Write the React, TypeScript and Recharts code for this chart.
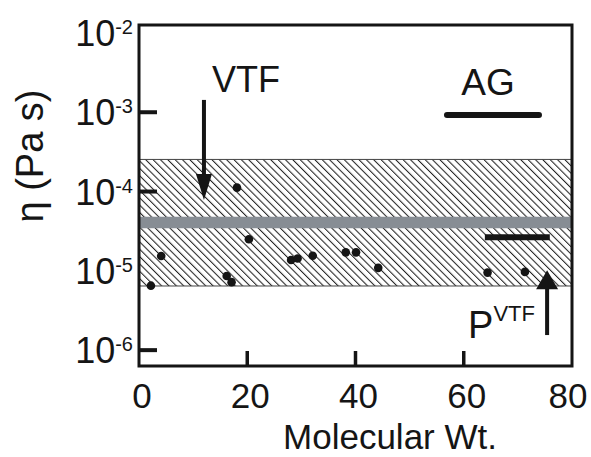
import React from "react";
import {
  ComposedChart,
  XAxis,
  YAxis,
  Scatter,
  ReferenceArea,
  ReferenceLine,
  ReferenceDot,
} from "recharts";

const FONT = '"Liberation Sans", Arial, Helvetica, sans-serif';
const INK = "#151515";

// molecular weight and viscosity of each liquid
const molWt = [2.2, 4.1, 16.2, 17.1, 18.1, 20.3, 28.1, 29.3, 32.1, 38.2, 40.1, 44.2, 64.4, 71.3];
const viscosity = [
  6.5e-6, 1.54e-5, 8.6e-6, 7.2e-6, 1.12e-4, 2.5e-5, 1.37e-5, 1.43e-5, 1.55e-5, 1.71e-5,
  1.71e-5, 1.09e-5, 9.5e-6, 9.7e-6,
];

const xTicks = [0, 20, 40, 60, 80];
const yTicks = [1e-6, 1e-5, 1e-4, 1e-3, 1e-2];
const yDomain = [Math.pow(10, -6.2), Math.pow(10, -1.9)];

// VTF range (hatched) and its centre (grey)
const vtfRange = [6.44e-6, 2.54e-4];
const vtfCentre = [3.44e-5, 4.82e-5];
// horizontal bars
const agBar = { x: [56.9, 73.9], y: 9.2e-4 };
const pBar = { x: [63.9, 75.9], y: 2.65e-5 };
// arrows: shaft start -> tip
const vtfArrow = { x: 12.0, from: 1.43e-3, to: 7.8e-5 };
const pArrow = { x: 75.4, from: 1.55e-6, to: 1.02e-5 };

const points = molWt.map((x, i) => ({ x, y: viscosity[i] }));

const YTick = (props: any) => {
  const { x, y, payload } = props;
  const exp = Math.round(Math.log10(payload.value));
  return (
    <g>
      {exp !== -2 && exp !== -5 && (
        <line x1={x} x2={x + 18} y1={y} y2={y} stroke={INK} strokeWidth={4} />
      )}
      <text x={x - 6} y={y + 13} textAnchor="end" fontFamily={FONT} fontSize={36} fill={INK}>
        10
        <tspan dy={-12} fontSize={20}>
          {String(exp)}
        </tspan>
      </text>
    </g>
  );
};

const XTick = (props: any) => {
  const { x, y, payload } = props;
  const v = payload.value;
  return (
    <g>
      {v > 0 && v < 80 && <line x1={x} x2={x} y1={y} y2={y - 15} stroke={INK} strokeWidth={3.5} />}
      <text
        x={v === 80 ? x - 4 : x + 3}
        y={y + 42}
        textAnchor="middle"
        fontFamily={FONT}
        fontSize={35}
        fill={INK}
      >
        {v}
      </text>
    </g>
  );
};

const arrowHead = (w: number, h: number, up: boolean) => (p: any) => {
  const { cx, cy } = p;
  const base = up ? cy + h : cy - h;
  return <polygon points={`${cx},${cy} ${cx - w / 2},${base} ${cx + w / 2},${base}`} fill={INK} />;
};

export default function App() {
  return (
    <div style={{ position: "absolute", left: 0, top: 0, width: 591, height: 457, background: "#fff" }}>
      <ComposedChart width={591} height={457} margin={{ top: 25, right: 19, bottom: 0, left: 0 }}>
        <defs>
          <pattern
            id="hatch"
            width={5.2}
            height={5.2}
            patternUnits="userSpaceOnUse"
            patternTransform="rotate(-45)"
          >
            <rect width={5.2} height={5.2} fill="#fff" />
            <line x1={0.5} y1={0} x2={0.5} y2={5.2} stroke="#222" strokeWidth={1.1} />
          </pattern>
        </defs>
        <XAxis
          type="number"
          dataKey="x"
          domain={[0, 80]}
          ticks={xTicks}
          height={91}
          axisLine={false}
          tickLine={false}
          tickSize={0}
          tickMargin={0}
          tick={<XTick />}
          interval={0}
        />
        <YAxis
          type="number"
          dataKey="y"
          scale="log"
          domain={yDomain}
          allowDataOverflow
          ticks={yTicks}
          width={139}
          axisLine={false}
          tickLine={false}
          tickSize={0}
          tickMargin={0}
          tick={<YTick />}
          interval={0}
        />
        <ReferenceArea
          x1={0}
          x2={80}
          y1={vtfRange[0]}
          y2={vtfRange[1]}
          fill="url(#hatch)"
          fillOpacity={1}
          stroke="#444"
          strokeWidth={1}
        />
        <ReferenceArea
          x1={0}
          x2={80}
          y1={vtfCentre[0]}
          y2={vtfCentre[1]}
          fill="#878d94"
          fillOpacity={1}
          stroke="none"
        />
        <Scatter
          data={points}
          dataKey="y"
          isAnimationActive={false}
          shape={(p: any) => <circle cx={p.cx} cy={p.cy} r={4.3} fill={INK} />}
        />
        <ReferenceLine
          segment={[
            { x: agBar.x[0], y: agBar.y },
            { x: agBar.x[1], y: agBar.y },
          ]}
          stroke={INK}
          strokeWidth={6}
          strokeLinecap="round"
        />
        <ReferenceLine
          segment={[
            { x: pBar.x[0], y: pBar.y },
            { x: pBar.x[1], y: pBar.y },
          ]}
          stroke={INK}
          strokeWidth={6}
        />
        <ReferenceLine
          segment={[
            { x: vtfArrow.x, y: vtfArrow.from },
            { x: vtfArrow.x, y: vtfArrow.to * 1.3 },
          ]}
          stroke={INK}
          strokeWidth={4}
        />
        <ReferenceDot x={vtfArrow.x} y={vtfArrow.to} r={0} shape={arrowHead(16, 26, false)} />
        <ReferenceLine
          segment={[
            { x: pArrow.x, y: pArrow.from },
            { x: pArrow.x, y: pArrow.to * 0.8 },
          ]}
          stroke={INK}
          strokeWidth={4}
        />
        <ReferenceDot x={pArrow.x} y={pArrow.to} r={0} shape={arrowHead(22, 19, true)} />
        <ReferenceDot
          x={13.5}
          y={1.8e-3}
          r={0}
          shape={(p: any) => (
            <text x={p.cx} y={p.cy} fontFamily={FONT} fontSize={36} fill={INK}>
              VTF
            </text>
          )}
        />
        <ReferenceDot
          x={64.5}
          y={1.65e-3}
          r={0}
          shape={(p: any) => (
            <text x={p.cx} y={p.cy} textAnchor="middle" fontFamily={FONT} fontSize={37} fill={INK}>
              AG
            </text>
          )}
        />
        <ReferenceDot
          x={60.8}
          y={1.42e-6}
          r={0}
          shape={(p: any) => (
            <text x={p.cx} y={p.cy} fontFamily={FONT} fontSize={38} fill={INK}>
              P
              <tspan dy={-17} fontSize={22}>
                VTF
              </tspan>
            </text>
          )}
        />
        <ReferenceArea
          x1={0}
          x2={80}
          y1={yDomain[0]}
          y2={yDomain[1]}
          fill="none"
          stroke={INK}
          strokeWidth={3}
        />
      </ComposedChart>
      <svg
        width={591}
        height={457}
        style={{ position: "absolute", left: 0, top: 0, pointerEvents: "none" }}
      >
        <text x={390} y={449} textAnchor="middle" fontFamily={FONT} fontSize={35} fill={INK}>
          Molecular Wt.
        </text>
        <text
          x={43}
          y={156}
          transform="rotate(-90, 43, 156)"
          textAnchor="middle"
          fontFamily={FONT}
          fontSize={38}
          fill={INK}
        >
          η (Pa s)
        </text>
      </svg>
    </div>
  );
}
